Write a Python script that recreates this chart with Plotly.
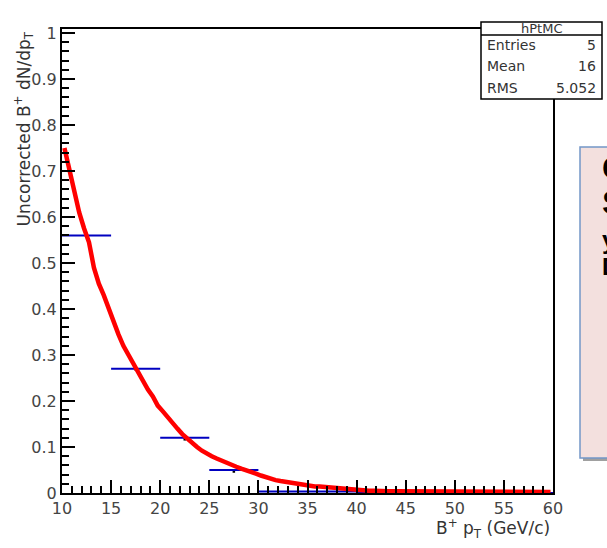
import plotly.graph_objects as go

# ---------------- data ----------------
# fine-binned MC curve (red), bin width 0.5 GeV starting at 10
mc_edges_start = 10.0
mc_bin_width = 0.5
mc_values = [
    0.75, 0.70, 0.65, 0.61, 0.575, 0.545, 0.49, 0.455, 0.43, 0.40,
    0.37, 0.345, 0.32, 0.30, 0.28, 0.26, 0.245, 0.225, 0.21, 0.19,
    0.178, 0.165, 0.15, 0.14, 0.128, 0.118, 0.11, 0.10, 0.092, 0.085,
    0.080, 0.075, 0.070, 0.066, 0.062, 0.057, 0.053, 0.050, 0.045, 0.042,
    0.038, 0.034, 0.031, 0.028, 0.026, 0.024, 0.022, 0.021, 0.019, 0.017,
    0.015, 0.014, 0.014, 0.013, 0.012, 0.010, 0.009, 0.009, 0.008, 0.008,
    0.006, 0.005, 0.005, 0.005, 0.004, 0.004, 0.004, 0.004, 0.004, 0.004,
    0.003, 0.003, 0.003, 0.003, 0.003, 0.003, 0.003, 0.003, 0.003, 0.003,
    0.003, 0.003, 0.003, 0.003, 0.002, 0.002, 0.002, 0.002, 0.002, 0.002,
    0.002, 0.002, 0.002, 0.002, 0.002, 0.002, 0.002, 0.002, 0.002, 0.002,
]

# coarse histogram hPtMC (blue)
bin_lo = [10, 15, 20, 25, 30, 40]
bin_hi = [15, 20, 25, 30, 40, 60]
bin_val = [0.56, 0.27, 0.12, 0.05, 0.003, 0.0]
bin_err = [0.004, 0.004, 0.006, 0.006, 0.0, 0.0]

stats_title = "hPtMC"
stats_rows = [("Entries", "5"), ("Mean", "16"), ("RMS", "5.052")]

x_title = "B<sup>+</sup> p<sub>T</sub> (GeV/c)"
y_title = "Uncorrected B<sup>+</sup> dN/dp<sub>T</sub>"

# ---------------- geometry helpers ----------------
W, H = 607, 548
L, R, T, B = 62, 553, 29, 493
YMAX = 1.0087


def px(x):
    return (x - L) / (R - L)


def py(y):
    return (B - y) / (B - T)


FONT = "DejaVu Sans"

fig = go.Figure()

# blue histogram (horizontal bin widths + small vertical errors)
centers = [(a + b) / 2 for a, b in zip(bin_lo, bin_hi)]
half = [(b - a) / 2 for a, b in zip(bin_lo, bin_hi)]
fig.add_trace(go.Scatter(
    x=centers, y=bin_val, mode="markers",
    marker=dict(size=1, color="rgba(0,0,0,0)"),
    error_x=dict(type="data", array=half, color="#0000c0", thickness=2, width=0),
    error_y=dict(type="data", array=[0] * len(bin_err), arrayminus=bin_err,
                 symmetric=False, color="black", thickness=2.5, width=0),
    showlegend=False, hoverinfo="skip", cliponaxis=False,
))

# red curve through bin centres
xs = [mc_edges_start + (i + 0.5) * mc_bin_width for i in range(len(mc_values))]
fig.add_trace(go.Scatter(
    x=xs, y=mc_values, mode="lines", line=dict(color="#ff0000", width=4.5, shape="linear"),
    showlegend=False, hoverinfo="skip",
))

axis_common = dict(
    showgrid=False, zeroline=False, showline=True, mirror=True,
    linecolor="black", linewidth=2,
    ticks="inside", ticklen=13, tickwidth=2, tickcolor="black",
    tickfont=dict(family=FONT, size=16, color="#444444"),
)

fig.update_xaxes(
    range=[10, 60], tickmode="linear", tick0=10, dtick=5,
    minor=dict(dtick=1, ticks="inside", ticklen=7, tickwidth=2, tickcolor="black", showgrid=False),
    **axis_common,
)
fig.update_yaxes(
    range=[0, YMAX], tickmode="array",
    tickvals=[0, 0.1, 0.2, 0.3, 0.4, 0.5, 0.6, 0.7, 0.8, 0.9, 1.0],
    ticktext=["0", "0.1", "0.2", "0.3", "0.4", "0.5", "0.6", "0.7", "0.8", "0.9", "1"],
    minor=dict(tickmode="linear", tick0=0, dtick=0.02, ticks="inside", ticklen=7, tickwidth=2,
               tickcolor="black", showgrid=False),
    **axis_common,
)

shapes = []
annotations = []

# pink box on the right (shadow + box)
shapes.append(dict(type="rect", xref="paper", yref="paper",
                   x0=px(583), x1=px(612), y0=py(461), y1=py(150),
                   fillcolor="#a0a0a0", line=dict(width=0), layer="above"))
shapes.append(dict(type="rect", xref="paper", yref="paper",
                   x0=px(580), x1=px(610), y0=py(458), y1=py(147),
                   fillcolor="#f3e0de", line=dict(color="#7396c8", width=1.5), layer="above"))
for ch, y, sz in [("C", 168, 32), ("S", 202, 34), ("y", 240, 26), ("D", 266, 24)]:
    annotations.append(dict(xref="paper", yref="paper", x=px(600), y=py(y),
                            xanchor="left", yanchor="middle", text="<b>" + ch + "</b>", showarrow=False,
                            font=dict(family="Liberation Sans", size=sz, color="black")))

# stats box
bx0, bx1 = 481, 602
shapes.append(dict(type="rect", xref="paper", yref="paper",
                   x0=px(bx0), x1=px(bx1), y0=py(99), y1=py(22),
                   fillcolor="white", line=dict(color="black", width=1.5), layer="above"))
shapes.append(dict(type="line", xref="paper", yref="paper",
                   x0=px(bx0), x1=px(bx1), y0=py(35), y1=py(35),
                   line=dict(color="black", width=1.5), layer="above"))
annotations.append(dict(xref="paper", yref="paper", x=px((bx0 + bx1) / 2), y=py(28.5),
                        text=stats_title, showarrow=False, xanchor="center", yanchor="middle",
                        font=dict(family=FONT, size=13, color="#333333")))
for i, (k, v) in enumerate(stats_rows):
    yy = 44.5 + i * 22
    annotations.append(dict(xref="paper", yref="paper", x=px(485), y=py(yy), text=k,
                            showarrow=False, xanchor="left", yanchor="middle",
                            font=dict(family=FONT, size=14, color="#333333")))
    annotations.append(dict(xref="paper", yref="paper", x=px(598), y=py(yy), text=v,
                            showarrow=False, xanchor="right", yanchor="middle",
                            font=dict(family=FONT, size=14, color="#333333")))

# axis titles
annotations.append(dict(xref="paper", yref="paper", x=px(552), y=py(528), text=x_title,
                        showarrow=False, xanchor="right", yanchor="middle",
                        font=dict(family=FONT, size=17, color="#333333")))
annotations.append(dict(xref="paper", yref="paper", x=px(24), y=py(30), text=y_title,
                        showarrow=False, xanchor="center", yanchor="top", textangle=-90,
                        font=dict(family=FONT, size=17, color="#333333")))

fig.update_layout(
    width=W, height=H,
    margin=dict(l=L, r=W - R, t=T, b=H - B, pad=0),
    paper_bgcolor="white", plot_bgcolor="white",
    shapes=shapes, annotations=annotations,
)

fig.write_html("out.html")
